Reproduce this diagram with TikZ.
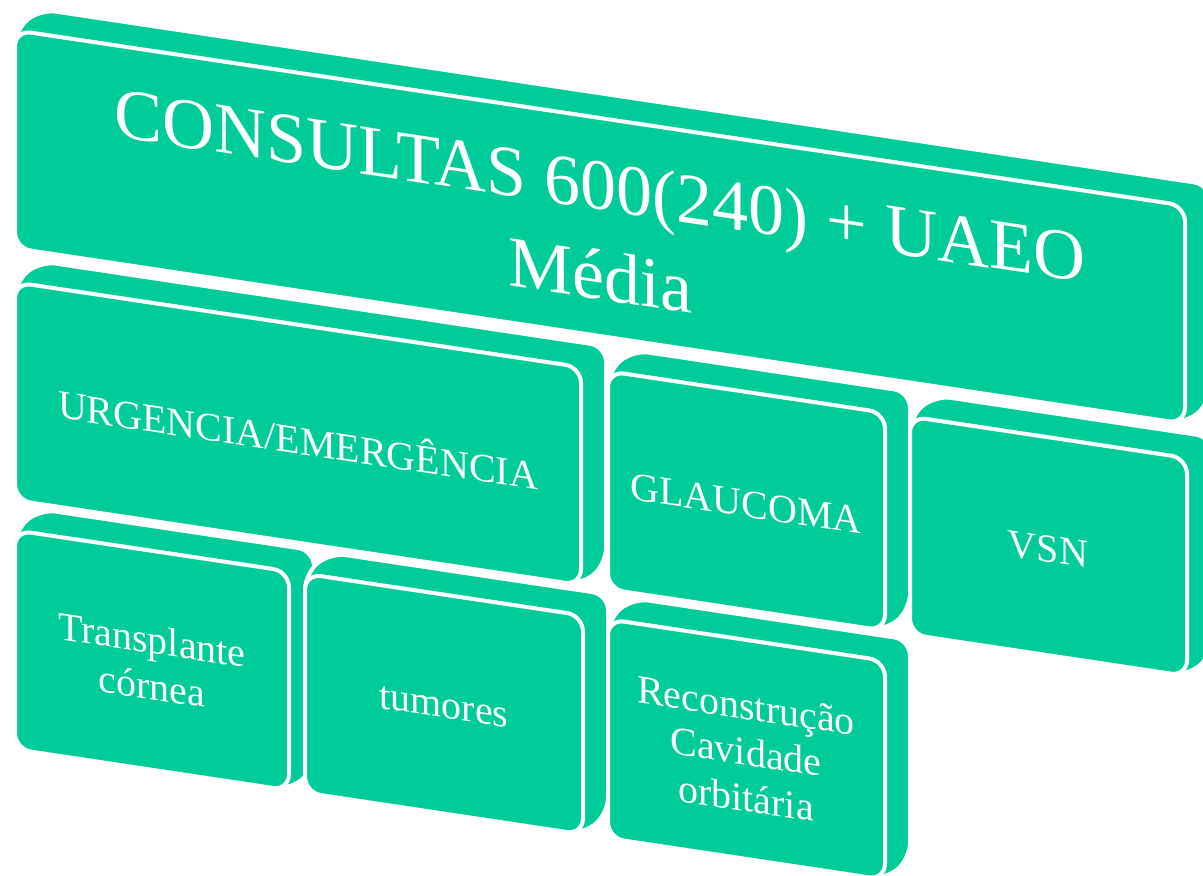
\documentclass[tikz,border=0pt]{standalone}
\usepackage{fontspec}
\setmainfont{Liberation Serif}
\definecolor{tgreen}{RGB}{0,204,153}
\tikzset{
  blockside/.style={fill=tgreen, draw=white, line width=4pt, rounded corners=16pt},
  blockface/.style={fill=tgreen, draw=white, line width=4pt, rounded corners=16pt},
  lbl/.style={text=white, align=center, transform shape, inner sep=0pt,
    font=\fontsize{40}{46}\selectfont},
  biglbl/.style={lbl, font=\fontsize{72}{90}\selectfont},
}
\newcommand\myblock[4]{%
  \path[blockside] (#1,#4) -- (#1,#2) -- ({#1+25},{#2-24.75}) -- ({#3+25},{#2-24.75})
    -- ({#3+25},{#4-24.75}) -- (#3,#4) -- cycle;
  \path[blockface] (#1,#2) rectangle (#3,#4);
}
\begin{document}
\begin{tikzpicture}[x=1pt,y=-1pt]
\useasboundingbox (0,0) rectangle (1203,876);
\fill[white] (0,0) rectangle (1203,876);
\clip (0,0) rectangle (1203,876);
\begin{scope}[cm={1,-0.15,0,1,(0,0)}]
  % row 1
  \myblock{15}{28}{1185}{246}
  \node[biglbl] (consultas) at (600,140) {CONSULTAS 600(240) + UAEO\\Média};
  % row 2
  \myblock{15}{280}{581}{498}
  \node[lbl] (urgencia) at (298,392) {URGENCIA/EMERGÊNCIA};
  \myblock{608}{280}{885}{498}
  \node[lbl] (glaucoma) at (746,392) {GLAUCOMA};
  \myblock{910}{280}{1187}{498}
  \node[lbl] (vsn) at (1048,392) {VSN};
  % row 3
  \myblock{15}{528}{289}{747}
  \node[lbl] (transplante) at (152,640) {Transplante\\córnea};
  \myblock{305}{528}{583}{747}
  \node[lbl] (tumores) at (444,640) {tumores};
  \myblock{608}{528}{885}{747}
  \node[lbl] (reconstrucao) at (746,640) {Reconstrução\\Cavidade\\orbitária};
\end{scope}
\end{tikzpicture}
\end{document}
